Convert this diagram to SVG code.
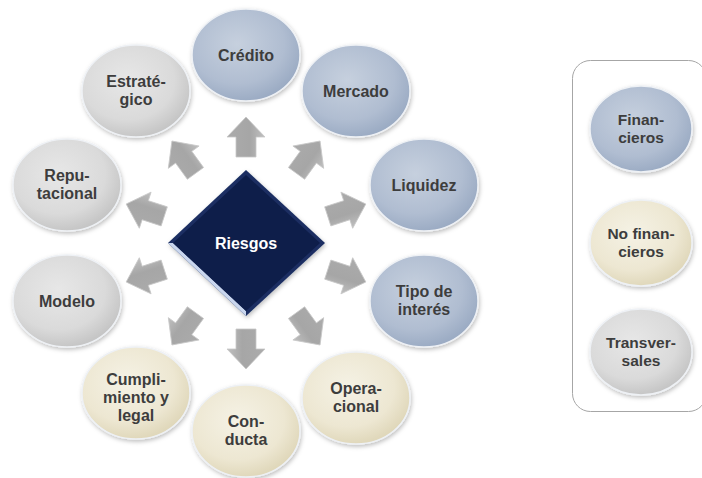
<svg xmlns="http://www.w3.org/2000/svg" width="702" height="478" viewBox="0 0 702 478">
<style>
.t{font-family:"Liberation Sans",Arial,sans-serif;font-weight:bold;font-size:16px;fill:#3d3d3d;text-anchor:middle}
.lt{font-family:"Liberation Sans",Arial,sans-serif;font-weight:bold;font-size:15.5px;fill:#3d3d3d;text-anchor:middle}
.w{font-family:"Liberation Sans",Arial,sans-serif;font-weight:bold;font-size:16px;fill:#ffffff;text-anchor:middle}
.e{stroke:#eef1f5;stroke-width:1.5;filter:url(#sh)}
.b{fill:url(#gb)}
.y{fill:url(#gy)}
.g{fill:url(#gg)}
.arr{fill:url(#ga);stroke:#c8c8c8;stroke-width:0.8}
</style>
<defs>
<filter id="sh" x="-20%" y="-20%" width="140%" height="140%">
<feDropShadow dx="1" dy="2" stdDeviation="2" flood-color="#000" flood-opacity="0.25"/>
</filter>
<radialGradient id="gb" cx="42%" cy="38%" r="62%">
<stop offset="0" stop-color="#c6d0de"/><stop offset="0.7" stop-color="#b0bdd1"/><stop offset="1" stop-color="#9cacc4"/>
</radialGradient>
<radialGradient id="gy" cx="42%" cy="38%" r="62%">
<stop offset="0" stop-color="#f5f2e5"/><stop offset="0.7" stop-color="#ede7d2"/><stop offset="1" stop-color="#e0d8bb"/>
</radialGradient>
<radialGradient id="gg" cx="42%" cy="38%" r="62%">
<stop offset="0" stop-color="#e7e7e7"/><stop offset="0.7" stop-color="#dadada"/><stop offset="1" stop-color="#c6c6c6"/>
</radialGradient>
<linearGradient id="ga" x1="0" y1="0" x2="1" y2="0">
<stop offset="0" stop-color="#ababab"/><stop offset="0.6" stop-color="#a6a6a6"/><stop offset="1" stop-color="#c0c0c0"/>
</linearGradient>
<path id="arrow" d="M0,-20 L19,0 L10,0 L10,20 L-10,20 L-10,0 L-19,0 Z"/>
</defs>
<rect width="702" height="478" fill="#ffffff"/>

<g id="connectors">
<use href="#arrow" class="arr" transform="translate(246,137) rotate(0)"/>
<use href="#arrow" class="arr" transform="translate(308.3,157.2) rotate(36)"/>
<use href="#arrow" class="arr" transform="translate(346.8,210.2) rotate(72)"/>
<use href="#arrow" class="arr" transform="translate(346.8,275.8) rotate(108)"/>
<use href="#arrow" class="arr" transform="translate(308.3,328.8) rotate(144)"/>
<use href="#arrow" class="arr" transform="translate(246,349) rotate(180)"/>
<use href="#arrow" class="arr" transform="translate(183.7,328.8) rotate(216)"/>
<use href="#arrow" class="arr" transform="translate(145.2,275.8) rotate(252)"/>
<use href="#arrow" class="arr" transform="translate(145.2,210.2) rotate(288)"/>
<use href="#arrow" class="arr" transform="translate(183.7,157.2) rotate(324)"/>
</g>

<g id="riesgos">
<polygon points="246,170 325,243 246,316 168,243" fill="#1b2f62" filter="url(#sh)"/>
<polygon points="168,243 246,316 246,311 173,243" fill="#c9d6ee"/>
<polygon points="246,175 320,243 246,311 173,243" fill="#0e1e4a"/>
<text class="w" x="246" y="249">Riesgos</text>
</g>

<g id="credito">
<ellipse class="e b" cx="246" cy="55" rx="54" ry="46"/>
<text class="t" x="246" y="61">Crédito</text>
</g>
<g id="mercado">
<ellipse class="e b" cx="356" cy="91" rx="54" ry="46"/>
<text class="t" x="356" y="97">Mercado</text>
</g>
<g id="liquidez">
<ellipse class="e b" cx="424" cy="185" rx="54" ry="46"/>
<text class="t" x="424" y="191">Liquidez</text>
</g>
<g id="tipo">
<ellipse class="e b" cx="424" cy="301" rx="54" ry="46"/>
<text class="t" x="424" y="297">Tipo de</text>
<text class="t" x="424" y="315">interés</text>
</g>
<g id="operacional">
<ellipse class="e y" cx="356" cy="398" rx="54" ry="46"/>
<text class="t" x="356" y="394">Opera-</text>
<text class="t" x="356" y="412">cional</text>
</g>
<g id="conducta">
<ellipse class="e y" cx="246" cy="431" rx="54" ry="46"/>
<text class="t" x="246" y="427">Con-</text>
<text class="t" x="246" y="445">ducta</text>
</g>
<g id="cumplimiento">
<ellipse class="e y" cx="136" cy="393" rx="54" ry="46"/>
<text class="t" x="136" y="385">Cumpli-</text>
<text class="t" x="136" y="403">miento y</text>
<text class="t" x="136" y="421">legal</text>
</g>
<g id="modelo">
<ellipse class="e g" cx="67" cy="301" rx="54" ry="46"/>
<text class="t" x="67" y="307">Modelo</text>
</g>
<g id="reputacional">
<ellipse class="e g" cx="67" cy="185" rx="54" ry="46"/>
<text class="t" x="67" y="181">Repu-</text>
<text class="t" x="67" y="199">tacional</text>
</g>
<g id="estrategico">
<ellipse class="e g" cx="136" cy="91" rx="54" ry="46"/>
<text class="t" x="136" y="87">Estraté-</text>
<text class="t" x="136" y="105">gico</text>
</g>

<g id="legend">
<rect x="572.5" y="60.5" width="134" height="351" rx="18" fill="none" stroke="#a6a6a6" stroke-width="1"/>
</g>
<g id="leg-financieros">
<ellipse class="e b" cx="641" cy="129" rx="51" ry="43"/>
<text class="lt" x="641" y="125">Finan-</text>
<text class="lt" x="641" y="143">cieros</text>
</g>
<g id="leg-nofinancieros">
<ellipse class="e y" cx="641" cy="243" rx="51" ry="43"/>
<text class="lt" x="641" y="239">No finan-</text>
<text class="lt" x="641" y="257">cieros</text>
</g>
<g id="leg-transversales">
<ellipse class="e g" cx="641" cy="352" rx="51" ry="43"/>
<text class="lt" x="641" y="348">Transver-</text>
<text class="lt" x="641" y="366">sales</text>
</g>
</svg>
